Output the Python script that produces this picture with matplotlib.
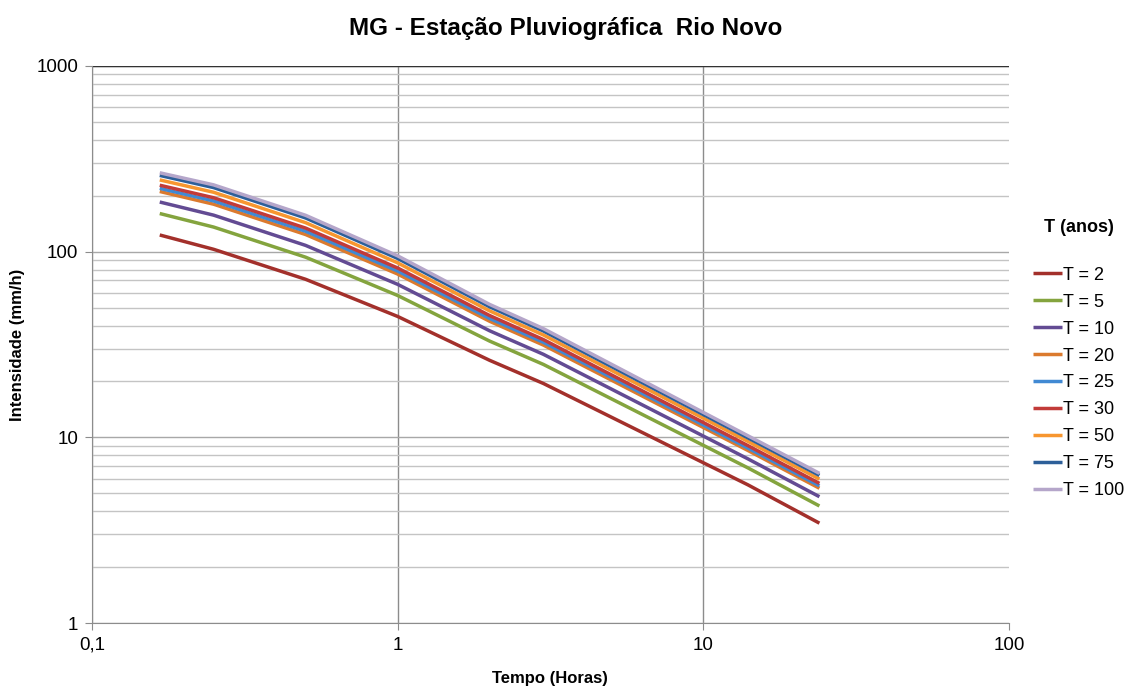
import matplotlib.pyplot as plt
from matplotlib.ticker import FixedLocator, NullLocator, FixedFormatter

plt.rcParams['font.family'] = ['Liberation Sans', 'DejaVu Sans']

# durations (hours) and intensities (mm/h)
tempo = [10/60, 15/60, 0.5, 1, 2, 3, 14, 24]
t2 = [123, 103, 71, 44.8, 26, 19.5, 5.55, 3.45]
t5 = [160.5, 135.7, 93.4, 58.1, 33.0, 24.7, 6.85, 4.27]
t10 = [185.1, 157.3, 108.1, 66.7, 37.5, 28.0, 7.66, 4.79]
t20 = [211, 180.2, 123.7, 75.8, 42.2, 31.4, 8.50, 5.32]
t25 = [219.4, 187.6, 128.8, 78.7, 43.7, 32.5, 8.76, 5.48]
t30 = [228, 195.2, 134, 81.7, 45.3, 33.6, 9.03, 5.65]
t50 = [243.5, 208.9, 143.3, 87.1, 48.0, 35.6, 9.51, 5.96]
t75 = [257.5, 221.4, 151.9, 92.0, 50.5, 37.4, 9.94, 6.24]
t100 = [266, 229, 157, 95, 52, 38.5, 10.2, 6.4]

series = [t2, t5, t10, t20, t25, t30, t50, t75, t100]
labels = ['T = 2', 'T = 5', 'T = 10', 'T = 20', 'T = 25', 'T = 30',
          'T = 50', 'T = 75', 'T = 100']
colors = ['#A3302B', '#84A43E', '#634B93', '#DB7A2E', '#4189D3',
          '#C23B39', '#F7962F', '#2D5F99', '#B5A6CA']

fig = plt.figure(figsize=(11.31, 6.86), dpi=100)
ax = fig.add_axes([0.0813, 0.0918, 0.8107, 0.812])

for y, lab, c in zip(series, labels, colors):
    ax.plot(tempo, y, color=c, lw=2.5, label=lab, solid_capstyle='butt')

ax.set_xscale('log')
ax.set_yscale('log')
ax.set_xlim(0.1, 100)
ax.set_ylim(1, 1000)

ax.xaxis.set_major_locator(FixedLocator([0.1, 1, 10, 100]))
ax.xaxis.set_major_formatter(FixedFormatter(['0,1', '1', '10', '100']))
ax.xaxis.set_minor_locator(NullLocator())
ax.yaxis.set_major_locator(FixedLocator([1, 10, 100, 1000]))
ax.yaxis.set_major_formatter(FixedFormatter(['1', '10', '100', '1000']))
ax.yaxis.set_minor_locator(FixedLocator([m * 10**e for e in range(3) for m in range(2, 10)]))

ax.grid(True, which='major', axis='x', color='#8C8C8C', lw=1.0)
ax.grid(True, which='major', axis='y', color='#A8A8A8', lw=1.0)
ax.grid(True, which='minor', axis='y', color='#C4C4C4', lw=1.0)
ax.set_axisbelow(True)
ax.get_xgridlines()[-1].set_visible(False)

ax.spines['top'].set_visible(False)
ax.spines['right'].set_visible(False)
ax.spines['left'].set_color('#8C8C8C')
ax.spines['bottom'].set_color('#8C8C8C')
ax.tick_params(which='major', length=5, color='#8C8C8C', labelsize=13.5, pad=5)
ax.tick_params(which='minor', length=0)
ax.axhline(1000, color='#333333', lw=1.0)

ax.set_xlabel('Tempo (Horas)', fontsize=12, fontweight='bold', labelpad=12)
ax.set_ylabel('Intensidade (mm/h)', fontsize=12, fontweight='bold', labelpad=8)
fig.suptitle('MG - Estação Pluviográfica  Rio Novo', x=0.5, y=0.975,
             fontsize=17.5, fontweight='bold')

leg = ax.legend(loc='upper left', bbox_to_anchor=(1.026, 0.725), frameon=False,
                fontsize=13, handlelength=1.65, handletextpad=0.05,
                labelspacing=0.55, borderpad=0, borderaxespad=0,
                title='T (anos)',
                title_fontproperties={'weight': 'bold', 'size': 13})
leg._legend_box.sep = 22

fig.savefig('out.png', dpi=100)
